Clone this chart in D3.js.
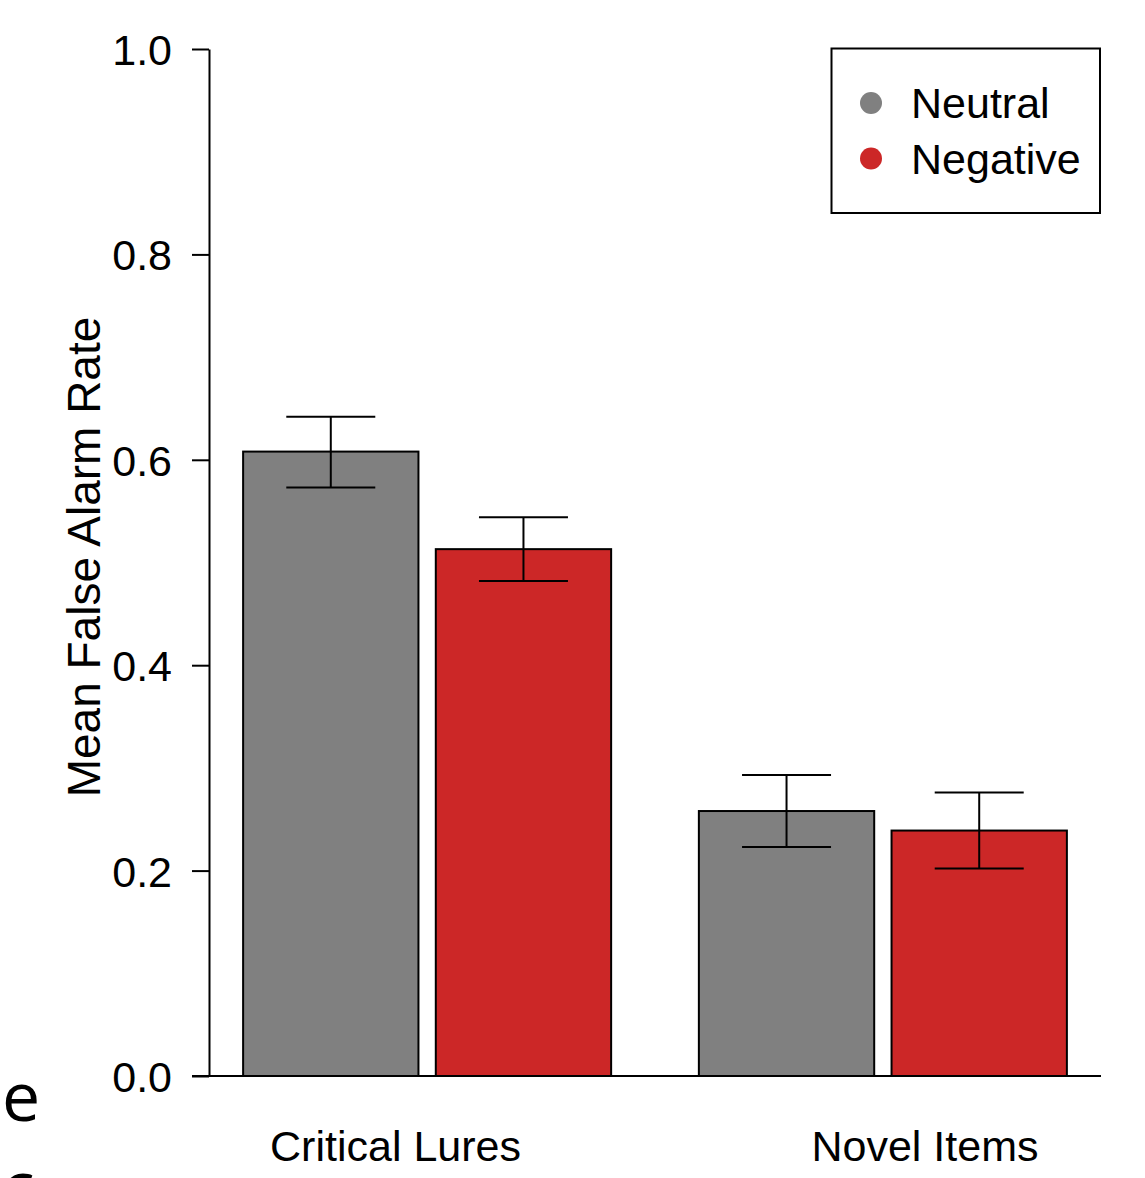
<!DOCTYPE html>
<html>
<head>
<meta charset="utf-8">
<script src="https://cdn.jsdelivr.net/npm/d3@7/dist/d3.min.js"></script>
<style>
  html, body { margin: 0; padding: 0; background: #fff; }
  svg { display: block; }
  text { font-family: "Liberation Sans", Arial, Helvetica, sans-serif; fill: #000; }
</style>
</head>
<body>
<svg id="chart" width="1145" height="1178"></svg>
<script>
// Mean false alarm rates by item type and emotional valence
const categories = ["Critical Lures", "Novel Items"];
const seriesNames = ["Neutral", "Negative"];
const seriesColors = ["#808080", "#cc2727"];
const neutralMeans = [0.608, 0.258];
const negativeMeans = [0.513, 0.239];
const neutralUpper = [0.642, 0.293];
const neutralLower = [0.573, 0.223];
const negativeUpper = [0.544, 0.276];
const negativeLower = [0.482, 0.202];
const yTicks = [0.0, 0.2, 0.4, 0.6, 0.8, 1.0];
const yLabel = "Mean False Alarm Rate";

const rows = [];
categories.forEach((c, i) => {
  rows.push({ cat: c, series: seriesNames[0], value: neutralMeans[i], hi: neutralUpper[i], lo: neutralLower[i] });
  rows.push({ cat: c, series: seriesNames[1], value: negativeMeans[i], hi: negativeUpper[i], lo: negativeLower[i] });
});

const svg = d3.select("#chart");

const axisX = 209, plotTop = 49, plotBottom = 1076, plotRight = 1101;

const y = d3.scaleLinear().domain([0, 1]).range([plotBottom, plotTop]);

const x0 = d3.scaleBand()
  .domain(categories)
  .range([199.25, 1110.75])
  .paddingInner(0.1925)
  .paddingOuter(0.09625);

const x1 = d3.scaleBand()
  .domain(seriesNames)
  .range([0, x0.bandwidth()])
  .paddingInner(0.09);

const color = d3.scaleOrdinal().domain(seriesNames).range(seriesColors);

// Category labels sit on their own positions under the axis
const xLabel = d3.scalePoint().domain(categories).range([395.5, 925]);

// Y axis
const yAxis = d3.axisLeft(y)
  .tickValues(yTicks)
  .tickFormat(d3.format(".1f"))
  .tickSize(17)
  .tickPadding(20)
  .tickSizeOuter(0);

const gy = svg.append("g")
  .attr("transform", `translate(${axisX},0)`)
  .call(yAxis);
gy.select(".domain").attr("stroke", "#000").attr("stroke-width", 2);
gy.selectAll(".tick line").attr("stroke", "#000").attr("stroke-width", 2);
gy.selectAll(".tick text")
  .attr("font-size", 43)
  .attr("dy", "0.36em")
  .style("font-family", "'Liberation Sans', Arial, sans-serif");

// X axis baseline
svg.append("line")
  .attr("x1", 192).attr("x2", plotRight)
  .attr("y1", y(0)).attr("y2", y(0))
  .attr("stroke", "#000").attr("stroke-width", 2);

// Bars
const groups = svg.append("g").selectAll("g")
  .data(rows)
  .join("g")
  .attr("transform", d => `translate(${x0(d.cat) + x1(d.series)},0)`);

groups.append("rect")
  .attr("x", 0)
  .attr("width", x1.bandwidth())
  .attr("y", d => y(d.value))
  .attr("height", d => y(0) - y(d.value))
  .attr("fill", d => color(d.series))
  .attr("stroke", "#000")
  .attr("stroke-width", 2);

// Error bars
const capHalf = 44.5;
groups.append("line")
  .attr("x1", x1.bandwidth() / 2).attr("x2", x1.bandwidth() / 2)
  .attr("y1", d => y(d.hi)).attr("y2", d => y(d.lo))
  .attr("stroke", "#000").attr("stroke-width", 2);
groups.append("line")
  .attr("x1", x1.bandwidth() / 2 - capHalf).attr("x2", x1.bandwidth() / 2 + capHalf)
  .attr("y1", d => y(d.hi)).attr("y2", d => y(d.hi))
  .attr("stroke", "#000").attr("stroke-width", 2);
groups.append("line")
  .attr("x1", x1.bandwidth() / 2 - capHalf).attr("x2", x1.bandwidth() / 2 + capHalf)
  .attr("y1", d => y(d.lo)).attr("y2", d => y(d.lo))
  .attr("stroke", "#000").attr("stroke-width", 2);

// Category labels
svg.append("g").selectAll("text")
  .data(categories)
  .join("text")
  .attr("x", d => xLabel(d))
  .attr("y", 1161)
  .attr("text-anchor", "middle")
  .attr("font-size", 43)
  .text(d => d);

// Y axis title
svg.append("text")
  .attr("transform", `translate(99.5,557) rotate(-90)`)
  .attr("text-anchor", "middle")
  .attr("font-size", 46)
  .text(yLabel);

// Legend
const legend = svg.append("g");
legend.append("rect")
  .attr("x", 831.5).attr("y", 48.5)
  .attr("width", 268.5).attr("height", 164.5)
  .attr("fill", "#fff").attr("stroke", "#000").attr("stroke-width", 2);
const legendItems = legend.selectAll("g.item")
  .data(seriesNames)
  .join("g")
  .attr("class", "item")
  .attr("transform", (d, i) => `translate(0,${103 + i * 55.5})`);
legendItems.append("circle")
  .attr("cx", 871).attr("cy", 0).attr("r", 11)
  .attr("fill", d => color(d));
legendItems.append("text")
  .attr("x", 911).attr("y", 0)
  .attr("dy", "0.36em")
  .attr("font-size", 43)
  .text(d => d);

// Fragments of neighbouring page text along the left margin
const margin = svg.append("g").style("font-family", "'Open Sans', sans-serif");
margin.append("text").attr("x", 2).attr("y", 1121).attr("font-size", 68)
  .style("font-family", "'Open Sans', sans-serif").text("e");
margin.append("text").attr("x", 2).attr("y", 1210).attr("font-size", 68)
  .style("font-family", "'Open Sans', sans-serif").text("c");
</script>
</body>
</html>
